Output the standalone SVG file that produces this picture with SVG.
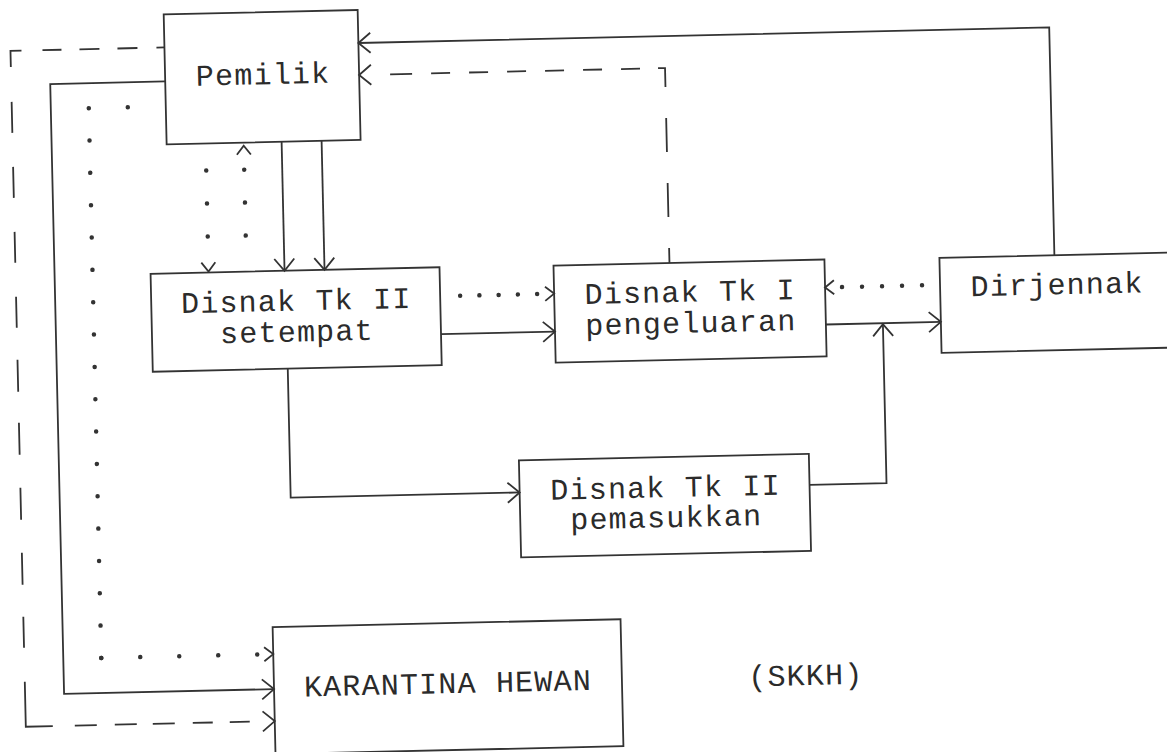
<svg xmlns="http://www.w3.org/2000/svg" width="1167" height="752" viewBox="0 0 1167 752">
<style>
  .box{fill:none;stroke:#333;stroke-width:1.8}
  .ln{fill:none;stroke:#333;stroke-width:1.8}
  .dot{fill:none;stroke:#333;stroke-width:4.5;stroke-linecap:round}
  .tip{fill:none;stroke:none}
  .t{font-family:"Liberation Mono","DejaVu Sans Mono",monospace;font-size:30px;letter-spacing:1.2px;fill:#2b2b2b;text-anchor:middle}
  .mk{fill:none;stroke:#333;stroke-width:1.8;stroke-linejoin:miter}
</style>
<defs>
  <marker id="arr" markerUnits="userSpaceOnUse" viewBox="-14 -12 16 24" markerWidth="16" markerHeight="24" refX="0" refY="0" orient="auto">
    <path class="mk" d="M-12,-10 L0,0 L-12,10"/>
  </marker>
  <marker id="arrs" markerUnits="userSpaceOnUse" viewBox="-12 -10 14 20" markerWidth="14" markerHeight="20" refX="0" refY="0" orient="auto">
    <path class="mk" d="M-9,-7 L0,0 L-9,7"/>
  </marker>
</defs>
<rect width="1167" height="752" fill="#fff"/>
<g transform="rotate(-1.3 583 376)">
  <g id="connectors">
    <!-- Dirjennak -> Pemilik (solid) -->
    <path class="ln" d="M1057,266 L1057,38 L366,38" marker-end="url(#arr)"/>
    <!-- Disnak Tk I -> Pemilik (dashed) -->
    <path class="ln" d="M672,265 L672,70 L366,70" stroke-dasharray="15 31 34 31 34 31 26 18 19 19 19 19 19 19 19 19 19 19 19 19 22 1000"/>
    <path class="tip" d="M370,70 L366,70" marker-end="url(#arr)"/>
    <!-- Pemilik -> Karantina (dashed) -->
    <path class="ln" d="M172,38 L18,38 L18,714 L256,714" stroke-dasharray="8 19 20 18 20 18 19 21 27 35 31 34 31 34 31 34 31 32 32 31 32 33 32 33 32 32 31 34 72 22 22 18 22 16 22 18 20 17 20 1000"/>
    <path class="tip" d="M259,714 L267,714" marker-end="url(#arr)"/>
    <!-- Pemilik -> Karantina (solid) -->
    <path class="ln" d="M172,72 L57,72 L57,682 L267,682" marker-end="url(#arr)"/>
    <!-- Pemilik -> Karantina (dotted) -->
    <path class="dot" d="M95,97 L95,648" stroke-dasharray="0 32.35"/>
    <path class="dot" d="M95,647 L255,647" stroke-dasharray="0 39"/>
    <circle cx="134" cy="97" r="2.25" fill="#333"/>
    <path class="tip" d="M262,647 L267,647" marker-end="url(#arrs)"/>
    <!-- Pemilik <-> Disnak Tk II setempat (dotted) -->
    <path class="dot" d="M211,162 L211,229" stroke-dasharray="0 33"/>
    <path class="tip" d="M211,258 L211,263" marker-end="url(#arrs)"/>
    <path class="dot" d="M249,162 L249,229" stroke-dasharray="0 33"/>
    <path class="tip" d="M249,143 L249,138" marker-end="url(#arrs)"/>
    <!-- Pemilik -> Disnak Tk II setempat (solid) -->
    <path class="ln" d="M287,135 L287,264" marker-end="url(#arr)"/>
    <path class="ln" d="M327,135 L327,264" stroke-width="2.3" marker-end="url(#arr)"/>
    <!-- setempat -> Disnak Tk I -->
    <path class="dot" d="M462,293 L540,293" stroke-dasharray="0 19.25"/>
    <path class="tip" d="M550,293 L556,293" marker-end="url(#arrs)"/>
    <path class="ln" d="M442,331 L556,331" marker-end="url(#arr)"/>
    <!-- Dirjennak -> Disnak Tk I (dotted) -->
    <path class="dot" d="M924,293 L843,293" stroke-dasharray="0 20"/>
    <path class="tip" d="M833,293 L827,293" marker-end="url(#arrs)"/>
    <!-- Disnak Tk I -> Dirjennak -->
    <path class="ln" d="M827,330 L942,330" marker-end="url(#arr)"/>
    <!-- pemasukkan -> junction -->
    <path class="ln" d="M807,490 L884,490 L884,331" marker-end="url(#arr)"/>
    <!-- setempat -> pemasukkan -->
    <path class="ln" d="M288,362 L288,491 L517,491" marker-end="url(#arr)"/>
  </g>
  <g id="node-pemilik">
    <rect class="box" x="172" y="5" width="194" height="130"/>
    <text class="t" x="270" y="77">Pemilik</text>
  </g>
  <g id="node-disnak-tk2-setempat">
    <rect class="box" x="153" y="264" width="289" height="98"/>
    <text class="t" x="298" y="304">Disnak Tk II</text>
    <text class="t" x="298" y="335">setempat</text>
  </g>
  <g id="node-disnak-tk1-pengeluaran">
    <rect class="box" x="556" y="265" width="271" height="97"/>
    <text class="t" x="692" y="304">Disnak Tk I</text>
    <text class="t" x="692" y="335">pengeluaran</text>
  </g>
  <g id="node-dirjennak">
    <rect class="box" x="942" y="266" width="240" height="95"/>
    <text class="t" x="1059" y="305">Dirjennak</text>
  </g>
  <g id="node-disnak-tk2-pemasukkan">
    <rect class="box" x="517" y="459" width="290" height="97"/>
    <text class="t" x="663" y="499">Disnak Tk II</text>
    <text class="t" x="663" y="529">pemasukkan</text>
  </g>
  <g id="node-karantina">
    <rect class="box" x="267" y="620" width="348" height="127"/>
    <text class="t" x="441" y="690">KARANTINA HEWAN</text>
  </g>
  <g id="label-skkh">
    <text class="t" x="799" y="690">(SKKH)</text>
  </g>
</g>
</svg>
